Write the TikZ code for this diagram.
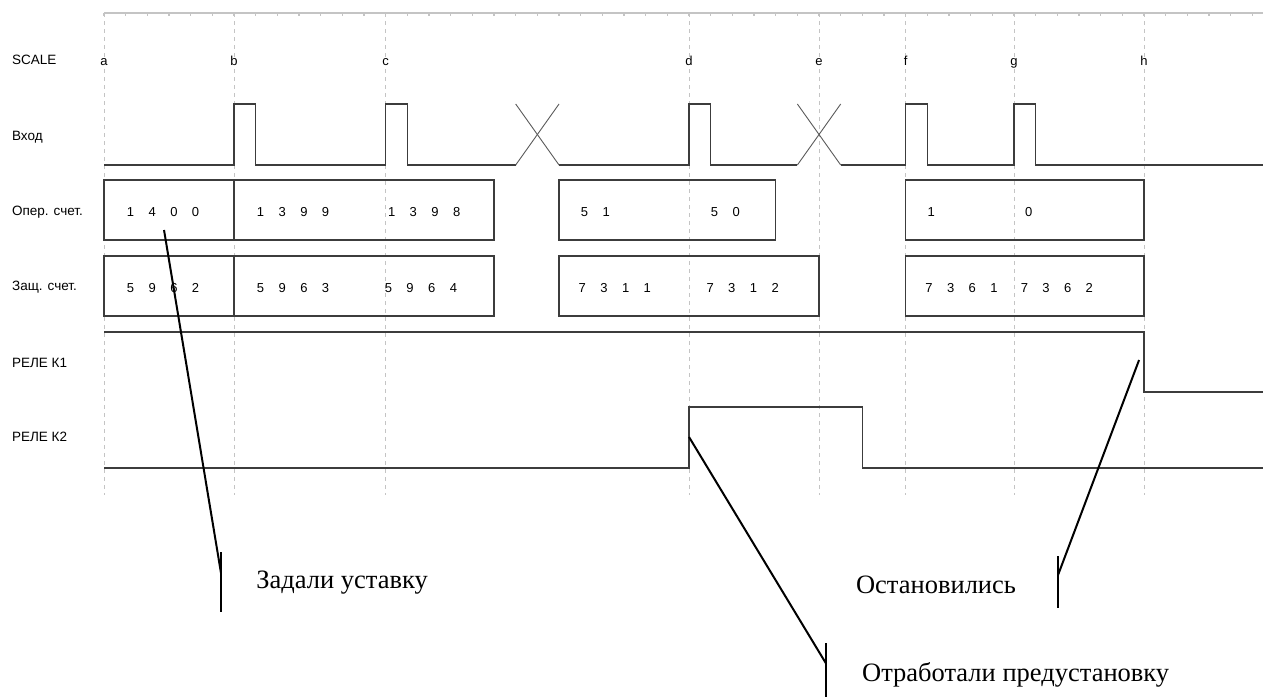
\documentclass[tikz,border=0pt]{standalone}
\usepackage{fontspec}
\setmainfont{Liberation Serif}
\setsansfont{Liberation Sans}
\usetikzlibrary{positioning,calc}
\definecolor{SigGray}{HTML}{3C3C3C}
\definecolor{CrossGray}{HTML}{5A5A5A}
\definecolor{GridGray}{HTML}{C4C4C4}
% spread the digits of a count over the grid ticks
\def\spreadnum#1{\spreadloop#1\relax}
\def\spreadloop#1{\ifx#1\relax\else\makebox[21.667pt][l]{#1}\expandafter\spreadloop\fi}
\tikzset{
    signal/.style={
        draw=SigGray,
        line width=1.3pt
    },
    cross/.style={
        draw=CrossGray,
        line width=0.9pt
    },
    ruler/.style={
        draw=GridGray,
        line width=1.2pt
    },
    grid line/.style={
        draw=GridGray,
        line width=0.9pt,
        dash pattern=on 4pt off 4pt
    },
    row label/.style={
        anchor=west,
        inner sep=0pt,
        font=\sffamily\fontsize{13.5}{15}\selectfont
    },
    scale mark/.style={
        anchor=base,
        fill=white,
        inner sep=1pt,
        text height=1.6ex,
        text depth=0.5ex,
        font=\sffamily\fontsize{13}{15}\selectfont
    },
    count/.style={
        anchor=west,
        inner sep=0pt,
        font=\sffamily\fontsize{13}{15}\selectfont
    },
    callout/.style={
        draw=black,
        line width=2pt
    },
    note/.style={
        anchor=west,
        inner sep=0pt,
        font=\fontsize{26.5}{30}\selectfont
    }
}

\begin{document}
\begin{tikzpicture}[x=21.667pt, y=-1pt]
        \useasboundingbox (-4.8,0) rectangle (53.49,697);

        % Ruler and scale marks
        \draw[ruler] (0,13) -- (53.49,13);
        \foreach \i in {0,...,53}
            \draw[ruler] (\i,13) -- (\i,16);
        \foreach \i/\l in {0/a,6/b,13/c,27/d,33/e,37/f,42/g,48/h} {
            \draw[grid line] (\i,13) -- (\i,495);
            \node[scale mark] (mark \l) at (\i,65) {\l};
        }

        % Row labels
        \node[row label] (lbl scale) at (-4.25,60) {SCALE};
        \node[row label] (lbl in) at (-4.25,137) {Вход};
        \node[row label] (lbl op) at (-4.25,212) {Опер. счет.};
        \node[row label] (lbl prot) at (-4.25,287) {Защ. счет.};
        \node[row label] (lbl k1) at (-4.25,363) {РЕЛЕ К1};
        \node[row label] (lbl k2) at (-4.25,437) {РЕЛЕ К2};

        % Input pulses
        \draw[signal] (0,165) -- (6,165) -- (6,104) -- (7,104) -- (7,165)
            -- (13,165) -- (13,104) -- (14,104) -- (14,165) -- (19,165);
        \draw[signal] (21,165) -- (27,165) -- (27,104) -- (28,104) -- (28,165) -- (32,165);
        \draw[signal] (34,165) -- (37,165) -- (37,104) -- (38,104) -- (38,165)
            -- (42,165) -- (42,104) -- (43,104) -- (43,165) -- (53.49,165);
        \foreach \i in {19,32} {
            \draw[cross] (\i,165) -- (\i+2,104);
            \draw[cross] (\i,104) -- (\i+2,165);
        }

        % Operating counter
        \draw[signal] (0,180) rectangle (18,240);
        \draw[signal] (6,180) -- (6,240);
        \draw[signal] (21,180) rectangle (31,240);
        \draw[signal] (37,180) rectangle (48,240);
        \node[count] (op1) at (1.05,212) {\spreadnum{1400}};
        \node[count] (op2) at (7.05,212) {\spreadnum{1399}};
        \node[count] (op3) at (13.1,212) {\spreadnum{1398}};
        \node[count] (op4) at (22.0,212) {\spreadnum{51}};
        \node[count] (op5) at (28.0,212) {\spreadnum{50}};
        \node[count] (op6) at (38.0,212) {\spreadnum{1}};
        \node[count] (op7) at (42.5,212) {\spreadnum{0}};

        % Protection counter
        \draw[signal] (0,256) rectangle (18,316);
        \draw[signal] (6,256) -- (6,316);
        \draw[signal] (21,256) rectangle (33,316);
        \draw[signal] (37,256) rectangle (48,316);
        \node[count] (pr1) at (1.05,288) {\spreadnum{5962}};
        \node[count] (pr2) at (7.05,288) {\spreadnum{5963}};
        \node[count] (pr3) at (12.95,288) {\spreadnum{5964}};
        \node[count] (pr4) at (21.9,288) {\spreadnum{7311}};
        \node[count] (pr5) at (27.8,288) {\spreadnum{7312}};
        \node[count] (pr6) at (37.9,288) {\spreadnum{7361}};
        \node[count] (pr7) at (42.3,288) {\spreadnum{7362}};

        % Relays
        \draw[signal] (0,332) -- (48,332) -- (48,392) -- (53.49,392);
        \draw[signal] (0,468) -- (27,468) -- (27,407) -- (35,407) -- (35,468) -- (53.49,468);

        % Callouts
        \coordinate (set src) at (2.77,230);
        \coordinate (set top) at (5.4,552);
        \coordinate (set tip) at (5.4,573);
        \coordinate (set bot) at (5.4,612);
        \node[note] (set note) at (7.02,583) {Задали уставку};
        \draw[callout] (set top) -- (set bot);
        \draw[callout] (set src) -- (set tip);

        \coordinate (pre src) at (27,437);
        \coordinate (pre top) at (33.31,643);
        \coordinate (pre tip) at (33.31,663);
        \coordinate (pre bot) at (33.31,697);
        \node[note] (pre note) at (34.98,675) {Отработали предустановку};
        \draw[callout] (pre top) -- (pre bot);
        \draw[callout] (pre src) -- (pre tip);

        \coordinate (stop src) at (47.77,360);
        \coordinate (stop top) at (44.03,556);
        \coordinate (stop tip) at (44.03,575);
        \coordinate (stop bot) at (44.03,608);
        \node[note] (stop note) at (34.7,585) {Остановились};
        \draw[callout] (stop top) -- (stop bot);
        \draw[callout] (stop src) -- (stop tip);
\end{tikzpicture}
\end{document}
